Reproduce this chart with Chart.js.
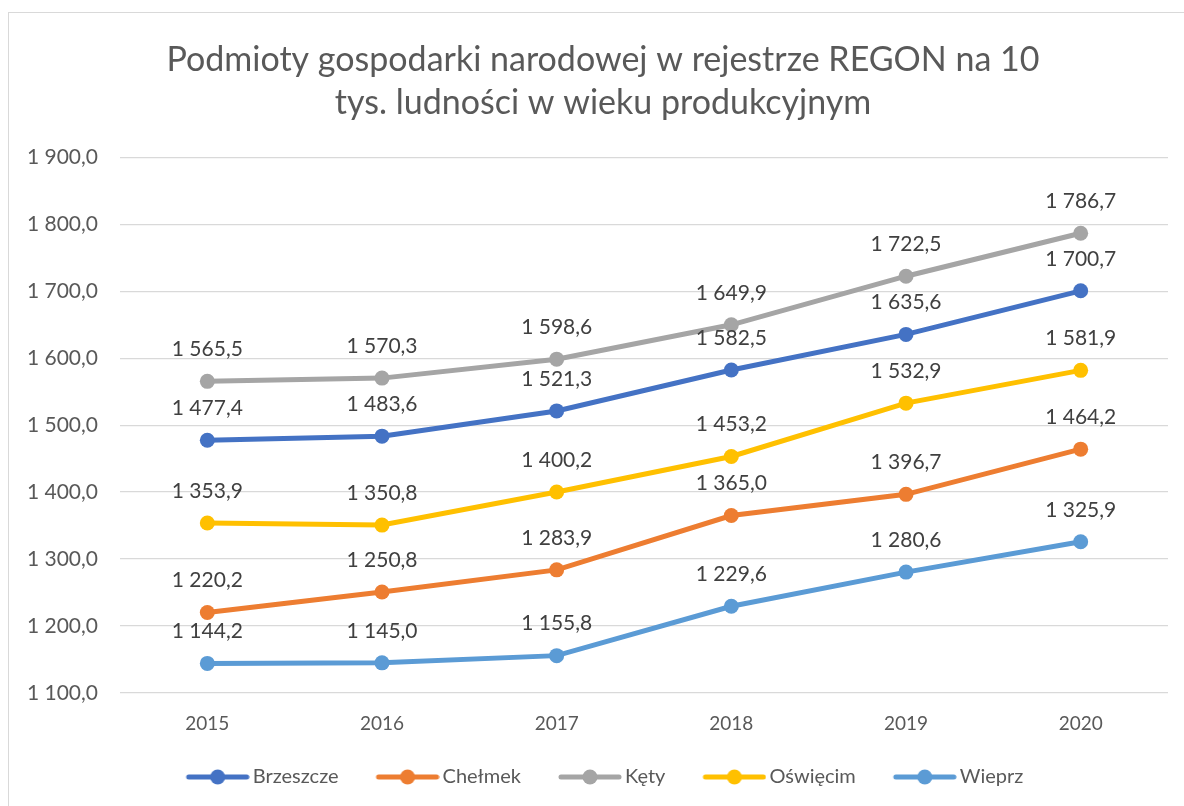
<!DOCTYPE html>
<html>
<head>
<meta charset="utf-8">
<script src="https://cdn.jsdelivr.net/npm/chart.js@4.4.1/dist/chart.umd.min.js"></script>
<style>
  html, body { margin: 0; padding: 0; background: #fff; overflow: hidden; }
  #wrap { position: relative; width: 1184px; height: 806px; overflow: hidden; }
  #frame { position: absolute; left: 8px; top: 12px; width: 1200px; height: 820px; border: 1px solid #d9d9d9; box-sizing: border-box; }
  canvas { position: absolute; left: 0; top: 0; }
</style>
</head>
<body>
<div id="wrap">
  <div id="frame"></div>
  <canvas id="chart" width="1214" height="806"></canvas>
</div>
<script>
/* data */
const years     = ['2015', '2016', '2017', '2018', '2019', '2020'];
const brzeszcze = [1477.4, 1483.6, 1521.3, 1582.5, 1635.6, 1700.7];
const chelmek   = [1220.2, 1250.8, 1283.9, 1365.0, 1396.7, 1464.2];
const kety      = [1565.5, 1570.3, 1598.6, 1649.9, 1722.5, 1786.7];
const oswiecim  = [1353.9, 1350.8, 1400.2, 1453.2, 1532.9, 1581.9];
const wieprz    = [1144.2, 1145.0, 1155.8, 1229.6, 1280.6, 1325.9];

const seriesNames  = ['Brzeszcze', 'Chełmek', 'Kęty', 'Oświęcim', 'Wieprz'];
const seriesColors = ['#4472C4', '#ED7D31', '#A5A5A5', '#FFC000', '#5B9BD5'];
const seriesData   = [brzeszcze, chelmek, kety, oswiecim, wieprz];

const FONT = "Lato, 'Open Sans', sans-serif";

/* ── polish number format: "1 477,4" ── */
function fmt(v) {
    const [i, d] = v.toFixed(1).split('.');
    return i.replace(/\B(?=(\d{3})+(?!\d))/g, ' ') + ',' + d;
}

/* ── legend marker: transparent lead-in, then line with a dot ── */
const MARK_BOX = 80;                 // pointStyleWidth
const MARK_W   = MARK_BOX + 14;      // image width, right edge sits just before the text
function legendMarker(color) {
    const c = document.createElement('canvas');
    c.width = MARK_W; c.height = 18;
    const g = c.getContext('2d');
    const x0 = MARK_W - 64;
    g.strokeStyle = color; g.lineWidth = 5; g.lineCap = 'round';
    g.beginPath(); g.moveTo(x0 + 3, 9); g.lineTo(x0 + 61, 9); g.stroke();
    g.fillStyle = color;
    g.beginPath(); g.arc(x0 + 32, 9, 7.5, 0, Math.PI * 2); g.fill();
    return c;
}

/* ── value labels above points ── */
const valueLabels = {
    id: 'valueLabels',
    afterDatasetsDraw(chart) {
        const ctx = chart.ctx;
        ctx.save();
        ctx.font = '21px ' + FONT;
        ctx.fillStyle = '#404040';
        ctx.textAlign = 'center';
        ctx.textBaseline = 'middle';
        chart.data.datasets.forEach((ds, di) => {
            chart.getDatasetMeta(di).data.forEach((pt, i) => {
                ctx.fillText(fmt(ds.data[i]), pt.x, pt.y - 32);
            });
        });
        ctx.restore();
    }
};

/* ── nudge legend left to undo the marker lead-in ── */
const legendShift = {
    id: 'legendShift',
    afterLayout(chart) {
        if (chart.legend) { chart.legend.left -= 10; chart.legend.right -= 10; }
    }
};

new Chart(document.getElementById('chart').getContext('2d'), {
    type: 'line',
    data: {
        labels: years,
        datasets: seriesNames.map((name, i) => ({
            label: name,
            data: seriesData[i],
            borderColor: seriesColors[i],
            backgroundColor: seriesColors[i],
            borderWidth: 5,
            pointRadius: 7.5,
            pointHoverRadius: 7.5,
            pointBorderWidth: 0,
            tension: 0
        }))
    },
    options: {
        responsive: false,
        animation: false,
        layout: { padding: { left: 8, right: 16, top: 20, bottom: 9 } },
        plugins: {
            title: {
                display: true,
                text: ['Podmioty gospodarki narodowej w rejestrze REGON na 10', 'tys. ludności w wieku produkcyjnym'],
                color: '#595959',
                font: { family: FONT, size: 34, weight: 'normal', lineHeight: 1.27 },
                padding: { top: 18, bottom: 33 }
            },
            legend: {
                position: 'bottom',
                labels: {
                    usePointStyle: true,
                    pointStyleWidth: MARK_BOX,
                    boxHeight: 18,
                    padding: 14,
                    color: '#595959',
                    font: { family: FONT, size: 20 },
                    generateLabels: chart => chart.data.datasets.map((ds, i) => ({
                        text: ds.label,
                        pointStyle: legendMarker(seriesColors[i]),
                        fillStyle: seriesColors[i],
                        strokeStyle: seriesColors[i],
                        lineWidth: 0,
                        datasetIndex: i,
                        fontColor: '#595959'
                    }))
                }
            },
            tooltip: { enabled: false }
        },
        scales: {
            x: {
                offset: true,
                grid: { display: false },
                border: { display: false },
                afterFit: s => { s.height = 60; },
                ticks: { color: '#595959', font: { family: FONT, size: 19 }, padding: 11 }
            },
            y: {
                min: 1100,
                max: 1900,
                grid: { color: '#d9d9d9', lineWidth: 1.3, drawTicks: false },
                border: { display: false },
                afterFit: s => { s.width = 112; },
                ticks: {
                    stepSize: 100,
                    color: '#595959',
                    font: { family: FONT, size: 21 },
                    padding: 22,
                    callback: v => fmt(v)
                }
            },
            /* empty right-hand spacer so title and legend centre on the frame */
            ySpacer: {
                position: 'right',
                display: true,
                grid: { display: false },
                border: { display: false },
                ticks: { display: false },
                afterFit: s => { s.width = 30; }
            }
        }
    },
    plugins: [valueLabels, legendShift]
});
</script>
</body>
</html>
